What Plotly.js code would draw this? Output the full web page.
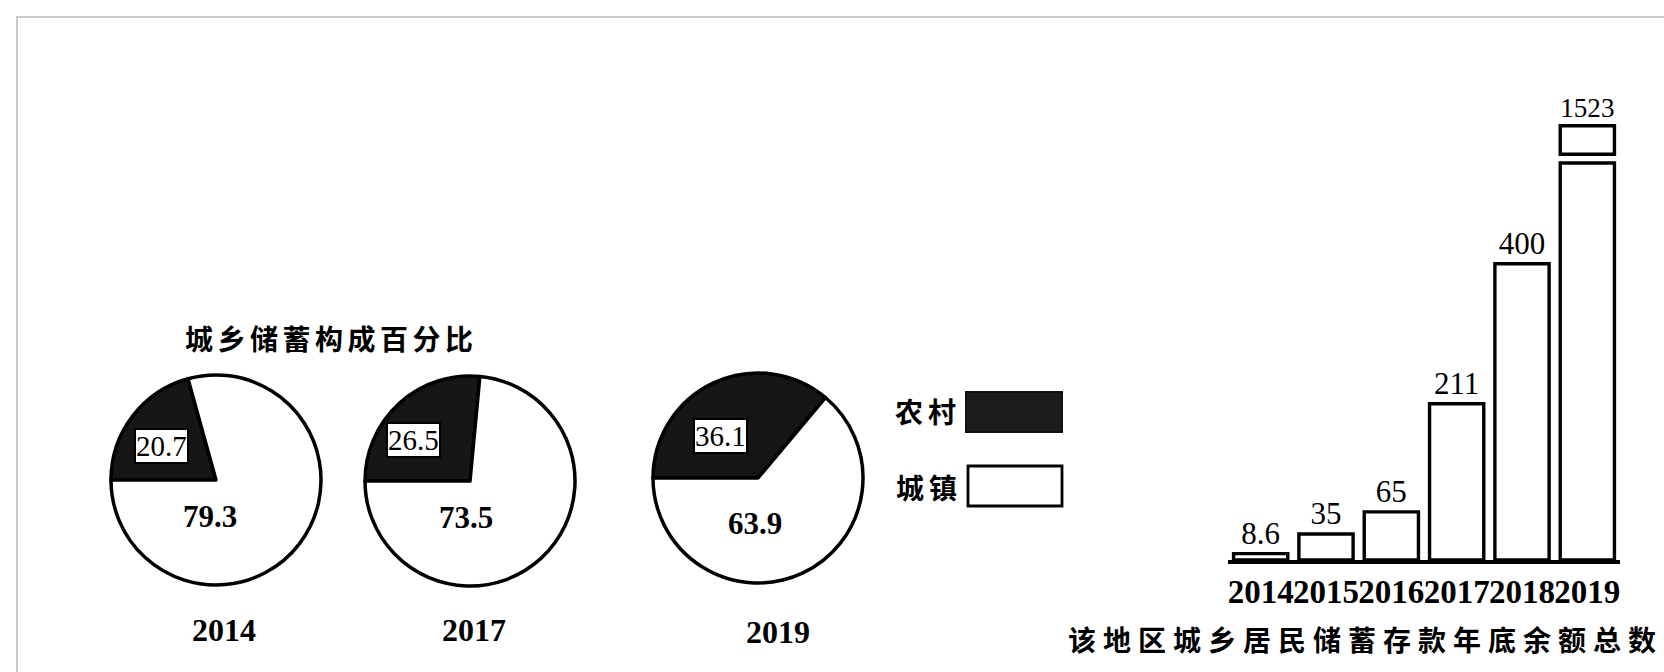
<!DOCTYPE html>
<html>
<head>
<meta charset="utf-8">
<script src="https://cdn.plot.ly/plotly-3.0.1.min.js"></script>
<style>
html,body{margin:0;padding:0;background:#fff;}
#chart{width:1664px;height:672px;}
text[data-unformatted="城乡储蓄构成百分比"]{letter-spacing:4.5px;}
text[data-unformatted^="该地区"]{letter-spacing:7px;}
text[data-unformatted="农村"],text[data-unformatted="城镇"]{letter-spacing:5px;}
</style>
</head>
<body>
<div id="chart"></div>
<script>
// ---- data ----
const pieYears = ['2014', '2017', '2019'];
const ruralShare = [20.7, 26.5, 36.1];
const urbanShare = [79.3, 73.5, 63.9];
const pieLabels = ['农村', '城镇'];
const pieTitle = '城乡储蓄构成百分比';
const barYears = ['2014', '2015', '2016', '2017', '2018', '2019'];
const totalDeposits = [8.6, 35, 65, 211, 400, 1523];
const barTitle = '该地区城乡居民储蓄存款年底余额总数';

// ---- layout helpers (pixel positions on the 1664x672 page) ----
const W = 1664, H = 672;
const fx = x => x / W;
const fy = y => 1 - y / H;
const CJK = 'Noto Sans CJK SC';
const SERIF = 'Liberation Serif';

// broken value axis for the bar chart
const lowerTop = 540;   // lower panel value range top
const breakLow = 536;   // bars taller than this are cut here
const breakBase = 1500; // upper panel bars start here

// pie geometry: center x, center y, radius
const pieGeo = [[216, 480, 105], [470, 481, 105], [758, 478, 105]];
const ruralPos = [[161, 446], [413, 440], [720, 436]];
const urbanPos = [[210, 516], [466, 517], [755, 523]];
const yearPos = [[224, 630], [474, 630], [778, 632]];

const traces = [];
pieYears.forEach((yr, i) => {
  const [cx, cy, r] = pieGeo[i];
  traces.push({
    type: 'pie',
    values: [ruralShare[i], urbanShare[i]],
    labels: pieLabels,
    sort: false,
    direction: 'clockwise',
    rotation: -90,
    textinfo: 'none',
    hoverinfo: 'skip',
    showlegend: false,
    marker: {colors: ['#161616', '#ffffff'], line: {color: '#000', width: 3.5}},
    domain: {x: [fx(cx - r), fx(cx + r)], y: [fy(cy + r), fy(cy - r)]}
  });
});

const barLine = {color: '#000', width: 3.4};
const barFont = {family: SERIF, size: 31, color: '#000'};
traces.push({
  type: 'bar',
  x: barYears,
  y: totalDeposits.map(v => Math.min(v, breakLow)),
  text: totalDeposits.map(v => v > breakLow ? '' : String(v)),
  textposition: 'outside',
  cliponaxis: false,
  textfont: barFont,
  marker: {color: '#fff', line: barLine},
  xaxis: 'x', yaxis: 'y',
  hoverinfo: 'skip', showlegend: false
});
traces.push({
  type: 'bar',
  x: barYears,
  y: totalDeposits.map(v => v > breakLow ? v - breakBase : null),
  base: breakBase,
  text: totalDeposits.map(v => v > breakLow ? String(v) : ''),
  textposition: 'outside',
  cliponaxis: false,
  textfont: barFont,
  marker: {color: '#fff', line: barLine},
  xaxis: 'x2', yaxis: 'y2',
  hoverinfo: 'skip', showlegend: false
});

const ann = (text, x, y, font, extra) => Object.assign({
  text: text, x: fx(x), y: fy(y), xref: 'paper', yref: 'paper',
  showarrow: false, xanchor: 'center', yanchor: 'middle', font: font
}, extra || {});

const annotations = [];
annotations.push(ann(pieTitle, 183, 338,
  {family: CJK, size: 28, color: '#000', weight: 'bold'}, {xanchor: 'left'}));
pieYears.forEach((yr, i) => {
  annotations.push(ann(String(ruralShare[i]), ruralPos[i][0], ruralPos[i][1],
    {family: SERIF, size: 29, color: '#000'},
    {bgcolor: '#fff', bordercolor: '#000', borderwidth: 2, borderpad: 0}));
  annotations.push(ann(String(urbanShare[i]), urbanPos[i][0], urbanPos[i][1],
    {family: SERIF, size: 31, color: '#000', weight: 'bold'}));
  annotations.push(ann(yr, yearPos[i][0], yearPos[i][1],
    {family: SERIF, size: 32, color: '#000', weight: 'bold'}));
});
annotations.push(ann(pieLabels[0], 893, 411,
  {family: CJK, size: 28, color: '#000', weight: 'bold'}, {xanchor: 'left'}));
annotations.push(ann(pieLabels[1], 894, 487,
  {family: CJK, size: 28, color: '#000', weight: 'bold'}, {xanchor: 'left'}));
annotations.push(ann(barTitle, 1066, 639,
  {family: CJK, size: 28, color: '#000', weight: 'bold'}, {xanchor: 'left'}));

const shapes = [
  {type: 'rect', xref: 'paper', yref: 'paper', x0: fx(17), x1: 1.05, y0: -0.05, y1: fy(17),
   line: {color: '#c9c9c9', width: 2}, fillcolor: 'rgba(0,0,0,0)', layer: 'below'},
  {type: 'rect', xref: 'paper', yref: 'paper', x0: fx(966), x1: fx(1062), y0: fy(432), y1: fy(392),
   line: {color: '#111', width: 2}, fillcolor: '#1c1c1c'},
  {type: 'rect', xref: 'paper', yref: 'paper', x0: fx(968), x1: fx(1062), y0: fy(506), y1: fy(466),
   line: {color: '#000', width: 2.8}, fillcolor: '#fff'}
];

const xDom = [fx(1228), fx(1620)];
const layout = {
  width: W, height: H,
  margin: {l: 0, r: 0, t: 0, b: 0},
  paper_bgcolor: '#fff', plot_bgcolor: 'rgba(0,0,0,0)',
  showlegend: false,
  bargap: 0.17,
  xaxis: {
    domain: xDom, anchor: 'y', type: 'category',
    showline: true, linecolor: '#000', linewidth: 3.5,
    ticks: '', tickangle: 0, showgrid: false, zeroline: false, fixedrange: true,
    tickfont: {family: SERIF, size: 33, color: '#000', weight: 'bold'}
  },
  yaxis: {
    domain: [fy(560), fy(160)], anchor: 'x', range: [0, lowerTop],
    visible: false, fixedrange: true
  },
  xaxis2: {
    domain: xDom, anchor: 'y2', type: 'category', categoryarray: barYears,
    visible: false, fixedrange: true
  },
  yaxis2: {
    domain: [fy(158), fy(122)], anchor: 'x2', range: [1497, 1526],
    visible: false, fixedrange: true
  },
  annotations: annotations,
  shapes: shapes
};

Plotly.newPlot('chart', traces, layout, {displayModeBar: false, staticPlot: true});
</script>
</body>
</html>
